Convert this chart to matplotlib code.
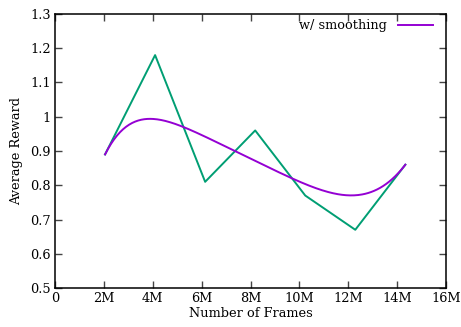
import numpy as np
import matplotlib
matplotlib.use("Agg")
import matplotlib.pyplot as plt
from matplotlib.bezier import BezierSegment
from matplotlib.ticker import FuncFormatter

frames = [2.048, 4.096, 6.144, 8.192, 10.24, 12.288, 14.336]  # millions
reward = [0.89, 1.18, 0.81, 0.96, 0.77, 0.67, 0.86]
x_ticks = [0, 2, 4, 6, 8, 10, 12, 14, 16]
y_ticks = [0.5, 0.6, 0.7, 0.8, 0.9, 1.0, 1.1, 1.2, 1.3]

plt.rcParams['font.family'] = ['DejaVu Serif']
FS = 9.3

fig = plt.figure(figsize=(4.61, 3.27), dpi=100)
ax = fig.add_axes([55/461, 1-288/327, (446-55)/461, (288-14)/327])

# gnuplot-style "smooth bezier" of the data
seg = BezierSegment(np.column_stack([frames, reward]))
pts = seg(np.linspace(0, 1, 300))

ax.plot(frames, reward, color='#009e73', lw=1.4)
ax.plot(pts[:, 0], pts[:, 1], color='#9400d3', lw=1.4, label='w/ smoothing')

ax.set_xlim(0, 16)
ax.set_ylim(0.5, 1.3)
ax.set_xticks(x_ticks)
ax.set_yticks(y_ticks)
ax.xaxis.set_major_formatter(FuncFormatter(lambda v, p: '0' if v == 0 else f'{int(v)}M'))
ax.yaxis.set_major_formatter(FuncFormatter(lambda v, p: '1' if abs(v-1) < 1e-9 else f'{v:.1f}'))
ax.tick_params(direction='in', top=True, right=True, length=5, width=1, labelsize=FS,
               color='#444444', pad=3)
for s in ax.spines.values():
    s.set_linewidth(1.1)

ax.set_xlabel('Number of Frames', fontsize=FS, labelpad=1)
ax.set_ylabel('Average Reward', fontsize=FS, labelpad=5)

ax.legend(loc='upper right', bbox_to_anchor=(0.98, 1.0), frameon=False, markerfirst=False,
          fontsize=FS, handlelength=2.7, borderaxespad=0.0, handletextpad=0.85)

fig.savefig('out.png', dpi=100)
